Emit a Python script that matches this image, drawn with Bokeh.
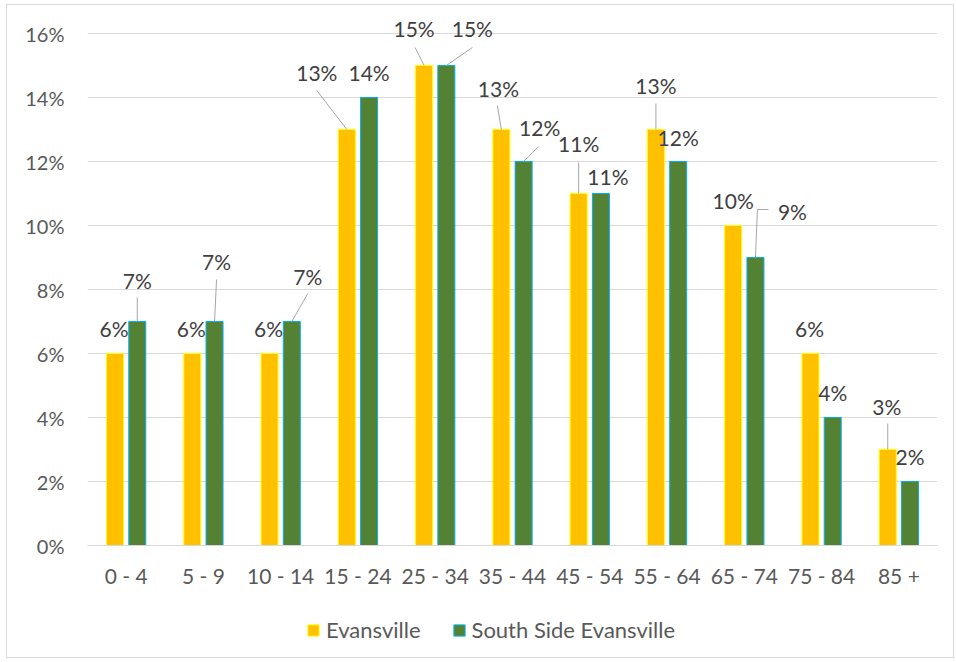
from bokeh.plotting import figure
from bokeh.layouts import column
from bokeh.models import (ColumnDataSource, FactorRange, Range1d, Legend, LegendItem,
                          PrintfTickFormatter, FixedTicker)
from bokeh.transform import dodge
from bokeh.core.properties import value
from bokeh.embed import file_html
from bokeh.resources import INLINE

# ---- data ----
CATEGORIES = ["0 - 4", "5 - 9", "10 - 14", "15 - 24", "25 - 34", "35 - 44",
              "45 - 54", "55 - 64", "65 - 74", "75 - 84", "85 +"]
EVANSVILLE = [6, 6, 6, 13, 15, 13, 11, 13, 10, 6, 3]
SOUTH_SIDE = [7, 7, 7, 14, 15, 12, 11, 12, 9, 4, 2]
Y_TICKS = [0, 2, 4, 6, 8, 10, 12, 14, 16]
SERIES_NAMES = ["Evansville", "South Side Evansville"]

# ---- layout / style ----
FONT = "Lato"
EV_FILL, EV_LINE = "#FFC000", "#FFFF00"
SS_FILL, SS_LINE = "#548235", "#00B0F0"
GRID = "#D9D9D9"
BAR_W = 0.22
OFF = 0.144
Y_TOP_PAD = 0.5          # headroom above the 16% grid line so top labels are not clipped
FRAME_W = 850
PX_PER_PCT = 32

# data-label placement in pixels relative to the bar top centre (dy<0 = up)
EV_LABEL_PX = [(-1, -25), (-1, -25), (-1, -25), (-30, -57), (-10, -37), (-3, -41),
               (0, -50), (0, -44), (0, -25), (-1, -25), (-1, -43)]
SS_LABEL_PX = [(0, -41), (2, -60), (16, -45), (0, -25), (26, -37), (16, -34),
               (7, -17), (0, -24), (37, -46), (0, -25), (0, -25)]
# leader lines: points in pixels relative to the bar top centre
EV_LEADERS = {3: [(-30, -39)], 4: [(-9, -18)], 5: [(-4, -24)], 6: [(0, -31)],
              7: [(0, -26)], 10: [(0, -26)]}
SS_LEADERS = {0: [(0, -24)], 1: [(2, -42)], 2: [(16, -28)], 4: [(26, -18)],
              5: [(15, -15)], 8: [(2, -48), (13, -48)]}

PXC = FRAME_W / len(CATEGORIES)


def xpos(i, off, dx):
    return i + 0.5 + off + dx / PXC


def ypos(v, dy):
    return v - dy / PX_PER_PCT


p = figure(x_range=FactorRange(*CATEGORIES),
           y_range=Range1d(Y_TICKS[0], Y_TICKS[-1] + Y_TOP_PAD),
           width=946, height=595, output_backend="svg", toolbar_location=None,
           min_border_left=80, min_border_right=16, min_border_top=12,
           min_border_bottom=55)
p.x_range.range_padding = 0
p.outline_line_color = None
p.background_fill_color = "white"
p.border_fill_color = "white"

p.xgrid.grid_line_color = None
p.ygrid.grid_line_color = GRID
p.ygrid.grid_line_width = 1

p.yaxis.ticker = FixedTicker(ticks=Y_TICKS)
p.yaxis.formatter = PrintfTickFormatter(format="%d%%")
for ax in (p.xaxis, p.yaxis):
    ax.axis_line_color = None
    ax.major_tick_line_color = None
    ax.minor_tick_line_color = None
    ax.major_tick_out = 0
    ax.major_tick_in = 0
    ax.major_label_text_font = FONT
    ax.major_label_text_font_size = "20px"
    ax.major_label_text_color = "#595959"
p.xaxis.major_label_text_font_size = "21px"
p.yaxis.major_label_standoff = 23
p.xaxis.major_label_standoff = 17
p.xaxis.axis_line_color = GRID

src = ColumnDataSource(dict(cat=CATEGORIES, ev=EVANSVILLE, ss=SOUTH_SIDE))
r_ev = p.vbar(x=dodge("cat", -OFF, range=p.x_range), top="ev", width=BAR_W,
              source=src, fill_color=EV_FILL, line_color=EV_LINE, line_width=1)
r_ss = p.vbar(x=dodge("cat", OFF, range=p.x_range), top="ss", width=BAR_W,
              source=src, fill_color=SS_FILL, line_color=SS_LINE, line_width=1)

# leader lines
xs, ys = [], []
for vals, off, leaders in ((EVANSVILLE, -OFF, EV_LEADERS), (SOUTH_SIDE, OFF, SS_LEADERS)):
    for i, pts in leaders.items():
        xx = [xpos(i, off, 0)] + [xpos(i, off, dx) for dx, dy in pts]
        yy = [vals[i]] + [ypos(vals[i], dy) for dx, dy in pts]
        xs.append(xx)
        ys.append(yy)
p.multi_line(xs=xs, ys=ys, line_color="#A6A6A6", line_width=1)

# data labels
lx, ly, lt = [], [], []
for vals, off, offs in ((EVANSVILLE, -OFF, EV_LABEL_PX), (SOUTH_SIDE, OFF, SS_LABEL_PX)):
    for i, v in enumerate(vals):
        dx, dy = offs[i]
        lx.append(xpos(i, off, dx))
        ly.append(ypos(v, dy))
        lt.append(f"{v}%")
p.text(x=lx, y=ly, text=lt, text_align="center", text_baseline="middle",
       text_font=value(FONT), text_font_size="21px", text_color="#404040")

# ---- legend strip below the chart (frame is aligned with the chart's frame) ----
pl = figure(width=946, height=57, output_backend="svg", toolbar_location=None,
            x_range=Range1d(0, 1), y_range=Range1d(0, 1),
            x_axis_location=None, y_axis_location=None, min_border=0)
pl.outline_line_color = None
pl.grid.grid_line_color = None
pl.border_fill_color = "white"
# swatch renderers (kept outside the visible range; they only supply the legend glyphs)
l_ev = pl.vbar(x=[-5], top=[-5], width=0.1, fill_color=EV_FILL, line_color=EV_LINE)
l_ss = pl.vbar(x=[-5], top=[-5], width=0.1, fill_color=SS_FILL, line_color=SS_LINE)
legend = Legend(items=[LegendItem(label=SERIES_NAMES[0], renderers=[l_ev]),
                       LegendItem(label=SERIES_NAMES[1], renderers=[l_ss])],
                orientation="horizontal", location=(219, 14),
                glyph_width=14, glyph_height=14, label_standoff=6, spacing=31,
                padding=0, margin=0, border_line_color=None,
                background_fill_alpha=0,
                label_text_font=FONT, label_text_font_size="22px",
                label_text_color="#595959")
pl.add_layout(legend)

layout = column(p, pl, spacing=0,
                styles={"margin-left": "6px", "margin-top": "4px",
                        "border": "1px solid #D9D9D9"})

open("out.html", "w").write(file_html(layout, INLINE))
